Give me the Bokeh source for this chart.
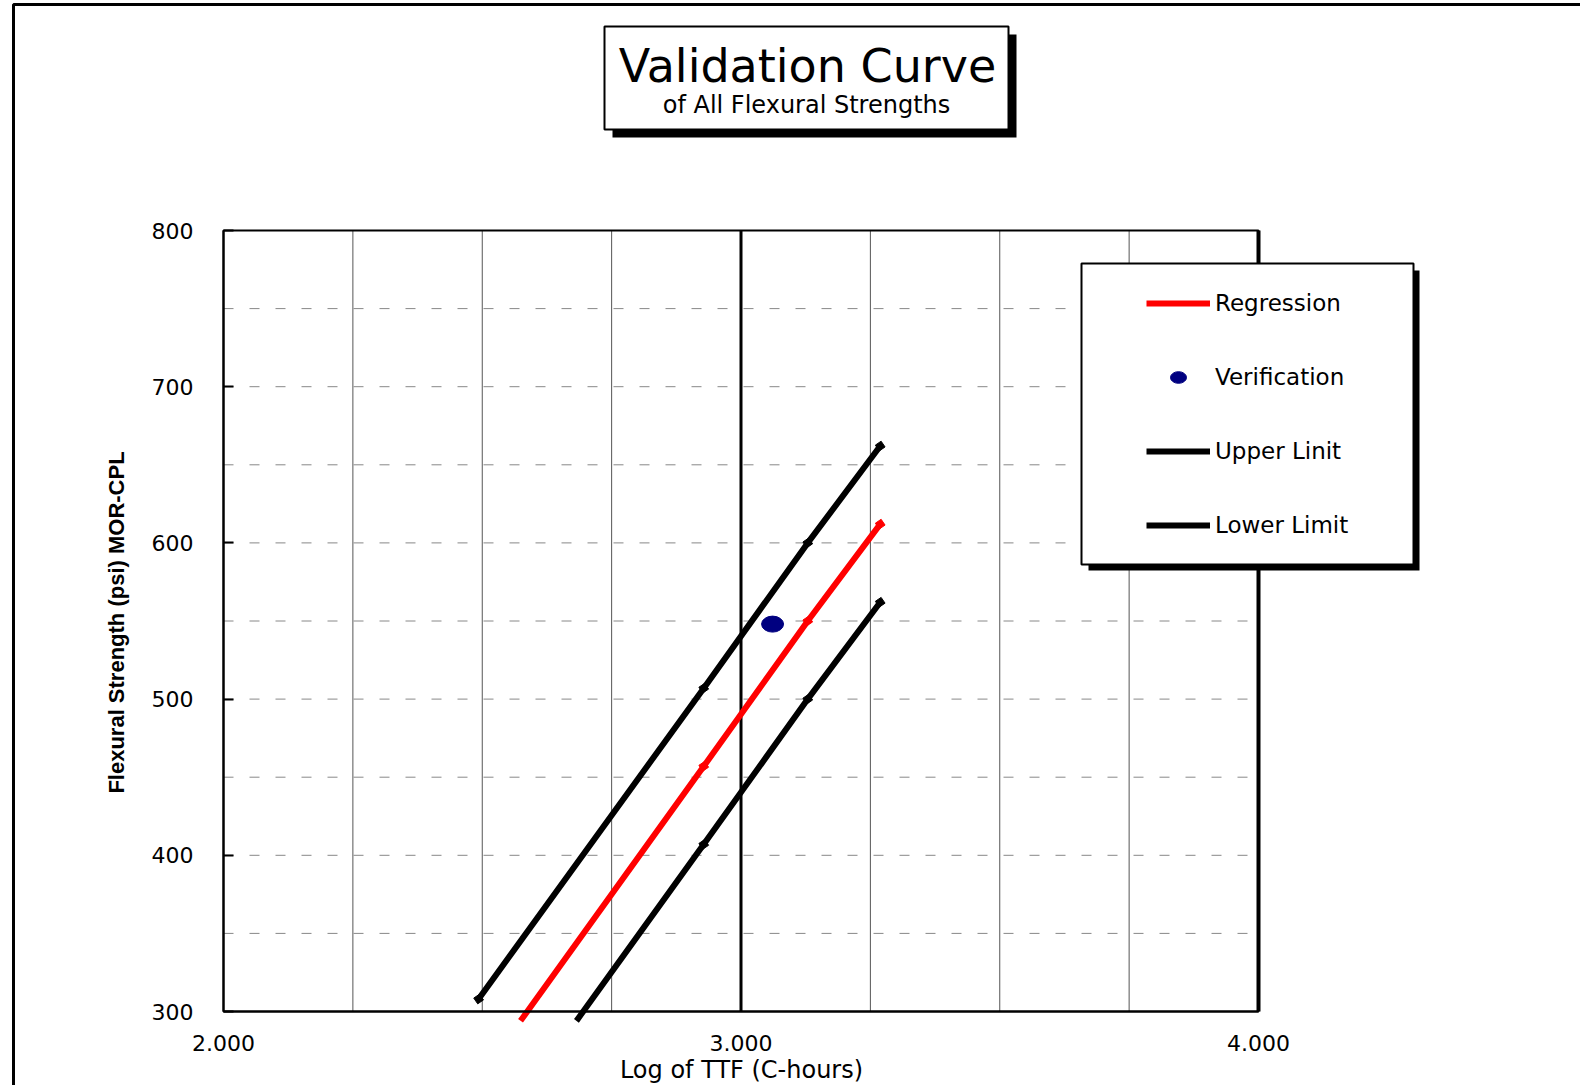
import math
from bokeh.plotting import figure
from bokeh.models import (Range1d, FixedTicker, BoxAnnotation, Label, Legend,
                          LegendItem, NumeralTickFormatter)
from bokeh.embed import file_html
from bokeh.resources import INLINE

# ---- data ----
reg_x = [2.574, 2.928, 3.129, 3.269]
regression = [294, 457, 550, 612]
up_x = [2.493, 2.928, 3.129, 3.269]
upper_limit = [308, 507, 600, 662]
lo_x = [2.682, 2.928, 3.129, 3.269]
lower_limit = [294, 407, 500, 562]
verif_x = [3.061]
verif_y = [548]
x_ticks = [2.0, 3.0, 4.0]
y_ticks = [300, 400, 500, 600, 700, 800]
x_grid = [2.25, 2.5, 2.75, 3.25, 3.5, 3.75]
x_heavy = [3.0]
y_grid = [350, 400, 450, 500, 550, 600, 650, 700, 750]

# ---- layout (pixels of the picture) ----
W, H = 1580, 1085
PL, PR, PT, PB = 223, 1258, 230, 1011          # plot-area edges
XMIN, XMAX, YMIN, YMAX = 2.0, 4.0, 300, 800
sx = (PR - PL) / (XMAX - XMIN)
sy = (PB - PT) / (YMAX - YMIN)
FONT = "DejaVu Sans"

p = figure(width=W, height=H, output_backend="svg", toolbar_location=None,
           x_range=Range1d(XMIN - PL / sx, XMAX + (W - PR) / sx),
           y_range=Range1d(YMIN - (H - PB) / sy, YMAX + PT / sy),
           min_border=0, background_fill_color="white", border_fill_color="white")
p.title.visible = False
p.outline_line_color = None
p.grid.visible = False

# axes drawn at the plot-area edges
p.xaxis.fixed_location = YMIN
p.xaxis.bounds = (XMIN, XMAX)
p.xaxis.ticker = FixedTicker(ticks=x_ticks)
p.xaxis.formatter = NumeralTickFormatter(format="0.000")
p.xaxis.major_tick_in = 0
p.xaxis.major_tick_out = 0
p.xaxis.minor_tick_line_color = None
p.xaxis.axis_line_width = 2
p.xaxis.major_label_standoff = 23
p.xaxis.major_label_text_font = FONT
p.xaxis.major_label_text_font_size = "22px"
p.xaxis.major_label_text_color = "black"

p.yaxis.fixed_location = XMIN
p.yaxis.bounds = (YMIN, YMAX)
p.yaxis.ticker = FixedTicker(ticks=y_ticks)
p.yaxis.major_tick_in = 10
p.yaxis.major_tick_out = 0
p.yaxis.major_tick_line_width = 2
p.yaxis.minor_tick_line_color = None
p.yaxis.axis_line_width = 2
p.yaxis.major_label_standoff = 30
p.yaxis.major_label_text_font = FONT
p.yaxis.major_label_text_font_size = "22px"
p.yaxis.major_label_text_color = "black"

# grid lines inside the plot area
p.segment(x0=x_grid, y0=[YMIN] * len(x_grid), x1=x_grid, y1=[YMAX] * len(x_grid),
          line_color="#555555", line_width=1)
p.segment(x0=[XMIN] * len(y_grid), y0=y_grid, x1=[XMAX] * len(y_grid), y1=y_grid,
          line_color="#888888", line_width=1, line_dash="10 16")
p.segment(x0=x_heavy, y0=[YMIN], x1=x_heavy, y1=[YMAX], line_color="black", line_width=3)
p.segment(x0=[XMAX], y0=[YMIN], x1=[XMAX], y1=[YMAX], line_color="black", line_width=4)

# data
LW = 6
r_reg = p.line(reg_x, regression, line_color="red", line_width=LW)
p.scatter(reg_x[1:], regression[1:], marker="square", size=7, angle=0.6, color="red")
r_up = p.line(up_x, upper_limit, line_color="black", line_width=LW)
p.scatter(up_x, upper_limit, marker="square", size=7, angle=0.6, color="black")
r_lo = p.line(lo_x, lower_limit, line_color="black", line_width=LW)
p.scatter(lo_x[1:], lower_limit[1:], marker="square", size=7, angle=0.6, color="black")
r_ver = p.ellipse(verif_x, verif_y, width=22, height=16, width_units="screen",
                  height_units="screen", fill_color="#000080", line_color="#000080")

# plot-area border
p.add_layout(BoxAnnotation(left=XMIN, right=XMAX, bottom=YMIN, top=YMAX,
                           fill_alpha=0, line_color="black", line_alpha=1,
                           line_width=2))


def canvas_box(l, r, t, b, **kw):
    return BoxAnnotation(left=l, right=r, top=t, bottom=b,
                         left_units="canvas", right_units="canvas",
                         top_units="canvas", bottom_units="canvas",
                         line_alpha=1, **kw)


def canvas_label(x, y, text, font, size, style="normal", angle=0.0):
    return Label(x=x, y=y, x_units="canvas", y_units="canvas", text=text,
                 text_font=font, text_font_size=size, text_font_style=style,
                 text_align="center", text_baseline="middle", text_color="black",
                 angle=angle)


# outer frame of the picture
p.add_layout(canvas_box(13, W + 50, 4, H + 50, fill_alpha=0,
                        line_color="black", line_width=3))

# axis titles
p.add_layout(canvas_label(741, 1069, "Log of TTF (C-hours)", FONT, "24px"))
p.add_layout(canvas_label(116, 622, "Flexural Strength (psi) MOR-CPL",
                          "Liberation Sans", "22px", "bold", math.pi / 2))

# title box with shadow
p.add_layout(canvas_box(612, 1016, 34, 137, fill_color="black", fill_alpha=1,
                        line_color=None))
p.add_layout(canvas_box(604, 1008, 26, 129, fill_color="white", fill_alpha=1,
                        line_color="black", line_width=2))
p.add_layout(canvas_label(807, 65, "Validation Curve", FONT, "46px"))
p.add_layout(canvas_label(806, 104, "of All Flexural Strengths", FONT, "24px"))

# legend box with shadow
p.add_layout(canvas_box(1088, 1419, 270, 570, fill_color="black", fill_alpha=1,
                        line_color=None))
p.add_layout(canvas_box(1081, 1413, 263, 564, fill_color="white", fill_alpha=1,
                        line_color="black", line_width=2))

legend = Legend(items=[LegendItem(label="Regression", renderers=[r_reg]),
                       LegendItem(label="Verification", renderers=[r_ver]),
                       LegendItem(label="Upper Linit", renderers=[r_up]),
                       LegendItem(label="Lower Limit", renderers=[r_lo])],
                location=(1146, H - 538),
                padding=0, margin=0, spacing=48,
                glyph_width=64, glyph_height=20, label_height=20, label_standoff=5,
                label_text_font=FONT, label_text_font_size="23px",
                label_text_color="black",
                background_fill_alpha=0, border_line_alpha=0)
p.add_layout(legend)

open("out.html", "w").write(file_html(p, INLINE))
